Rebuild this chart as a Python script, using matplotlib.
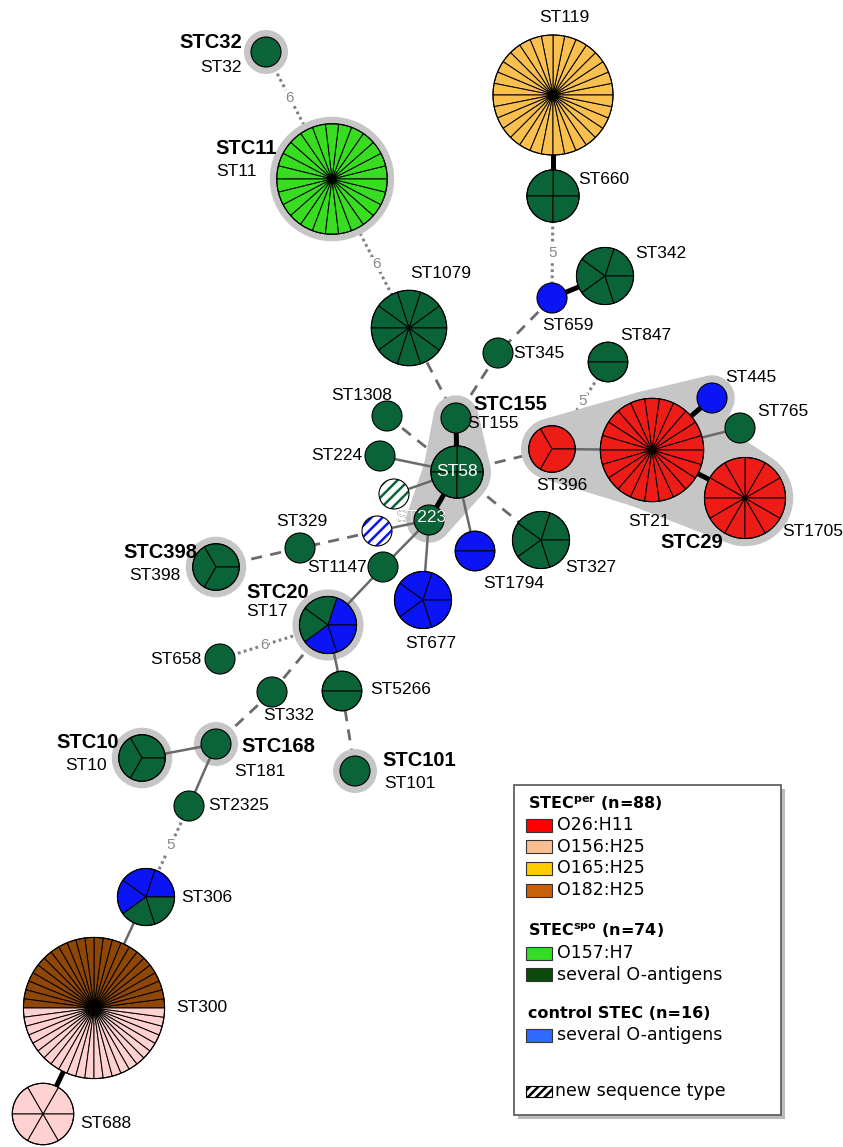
import numpy as np
import matplotlib
matplotlib.use("Agg")
import matplotlib.pyplot as plt
from matplotlib.patches import Circle, Wedge, Polygon, Rectangle

plt.rcParams['font.family'] = ['Liberation Sans', 'DejaVu Sans']
plt.rcParams['hatch.linewidth'] = 1.8

# --- data: isolates per sequence type, wedges in order (ccw from 3 o'clock) ---
st_types = {
    'ST32': [('spo', 1)], 'ST11': [('O157', 26)], 'ST119': [('O165', 32)],
    'ST660': [('spo', 4)], 'ST342': [('spo', 5)], 'ST659': [('ctrl', 1)],
    'ST1079': [('spo', 10)], 'ST345': [('spo', 1)], 'ST847': [('spo', 2)],
    'ST1308': [('spo', 1)], 'ST155': [('spo', 1)], 'ST224': [('spo', 1)],
    'ST58': [('spo', 4)], 'newA': [('spo', 1)], 'ST223': [('spo', 1)],
    'newB': [('ctrl', 1)], 'ST1794': [('ctrl', 2)], 'ST327': [('spo', 5)],
    'ST396': [('O26', 3)], 'ST21': [('O26', 22)], 'ST445': [('ctrl', 1)],
    'ST765': [('spo', 1)], 'ST1705': [('O26', 12)], 'ST329': [('spo', 1)],
    'ST398': [('spo', 3)], 'ST1147': [('spo', 1)],
    'ST17': [('ctrl', 1), ('spo', 2), ('ctrl', 2)],
    'ST677': [('ctrl', 5)], 'ST658': [('spo', 1)], 'ST5266': [('spo', 2)],
    'ST332': [('spo', 1)], 'ST181': [('spo', 1)], 'ST101': [('spo', 1)],
    'ST10': [('spo', 3)], 'ST2325': [('spo', 1)],
    'ST306': [('ctrl', 3), ('spo', 2)],
    'ST300': [('O182', 24), ('O156', 24)], 'ST688': [('O156', 6)],
}
new_sts = ['newA', 'newB']

# links: (a, b, kind, allelic distance label)
links = [
    ('ST32', 'ST11', 'dotted', '6'), ('ST11', 'ST1079', 'dotted', '6'),
    ('ST1079', 'ST155', 'dashed', ''), ('ST119', 'ST660', 'strong', ''),
    ('ST660', 'ST659', 'dotted', '5'), ('ST659', 'ST342', 'strong', ''),
    ('ST659', 'ST345', 'dashed', ''), ('ST345', 'ST155', 'dashed', ''),
    ('ST847', 'ST396', 'dotted', '5'), ('ST155', 'ST58', 'strong', ''),
    ('ST1308', 'ST58', 'dashed', ''), ('ST224', 'ST58', 'solid', ''),
    ('newA', 'ST58', 'solid', ''), ('ST58', 'ST223', 'strong', ''),
    ('ST58', 'ST1794', 'solid', ''), ('ST58', 'ST327', 'dashed', ''),
    ('ST58', 'ST396', 'dashed', ''), ('ST396', 'ST21', 'solid', ''),
    ('ST21', 'ST445', 'strong', ''), ('ST21', 'ST765', 'solid', ''),
    ('ST21', 'ST1705', 'strong', ''), ('ST223', 'newB', 'solid', ''),
    ('newB', 'ST329', 'dashed', ''), ('ST329', 'ST398', 'dashed', ''),
    ('ST223', 'ST1147', 'solid', ''), ('ST1147', 'ST17', 'solid', ''),
    ('ST223', 'ST677', 'solid', ''), ('ST17', 'ST658', 'dotted', '6'),
    ('ST17', 'ST5266', 'solid', ''), ('ST5266', 'ST101', 'dashed', ''),
    ('ST17', 'ST332', 'dashed', ''), ('ST332', 'ST181', 'dashed', ''),
    ('ST181', 'ST10', 'solid', ''), ('ST181', 'ST2325', 'solid', ''),
    ('ST2325', 'ST306', 'dotted', '5'), ('ST306', 'ST300', 'solid', ''),
    ('ST300', 'ST688', 'strong', ''),
]

# clonal complexes
stc_single = ['ST32', 'ST11', 'ST398', 'ST17', 'ST10', 'ST181', 'ST101']
stc_groups = [['ST155', 'ST58'], ['ST58', 'ST223'],
              ['ST396', 'ST21', 'ST445'], ['ST21', 'ST1705']]

legend_groups = [
    ('STEC$^{\\mathbf{per}}$ (n=88)', [('O26:H11', '#FF0000'), ('O156:H25', '#F9BF92'),
                                      ('O165:H25', '#FFCC00'), ('O182:H25', '#C8600A')]),
    ('STEC$^{\\mathbf{spo}}$ (n=74)', [('O157:H7', '#33DD22'), ('several O-antigens', '#0A4A0A')]),
    ('control STEC (n=16)', [('several O-antigens', '#2F6BFF')]),
]

# --- layout (pixel positions) ---
layout = {
    'ST32': (266, 52), 'ST11': (332, 179), 'ST119': (553, 95), 'ST660': (553, 196),
    'ST342': (605, 276), 'ST659': (552, 298), 'ST1079': (409, 328), 'ST345': (498, 353),
    'ST847': (608, 362), 'ST1308': (387, 416), 'ST155': (456, 418), 'ST224': (380, 456),
    'ST58': (457, 472), 'newA': (394, 494), 'ST223': (429, 520), 'newB': (377, 531),
    'ST1794': (475, 551), 'ST327': (541, 540), 'ST396': (552, 449), 'ST21': (652, 450),
    'ST445': (712, 398), 'ST765': (740, 428), 'ST1705': (745, 498), 'ST329': (300, 548),
    'ST398': (216, 567), 'ST1147': (383, 567), 'ST17': (328, 625), 'ST677': (423, 600),
    'ST658': (220, 659), 'ST5266': (342, 691), 'ST332': (272, 692), 'ST181': (216, 744),
    'ST101': (355, 771), 'ST10': (142, 758), 'ST2325': (189, 806), 'ST306': (146, 897),
    'ST300': (94, 1008), 'ST688': (43, 1114),
}
label_pos = {
    'ST32': (242, 68, 'right'), 'ST11': (257, 172, 'right'), 'ST119': (564, 17, 'center'),
    'ST660': (578, 179, 'left'), 'ST342': (635, 254, 'left'), 'ST659': (542, 325, 'left'),
    'ST1079': (410, 274, 'left'), 'ST345': (513, 354, 'left'), 'ST847': (620, 335, 'left'),
    'ST1308': (331, 395, 'left'), 'ST155': (467, 424, 'left'), 'ST224': (362, 455, 'right'),
    'ST396': (536, 485, 'left'), 'ST445': (725, 377, 'left'), 'ST765': (757, 411, 'left'),
    'ST21': (628, 522, 'left'), 'ST1705': (782, 531, 'left'), 'ST329': (276, 522, 'left'),
    'ST398': (180, 575, 'right'), 'ST1147': (367, 568, 'right'), 'ST17': (288, 612, 'right'),
    'ST1794': (483, 584, 'left'), 'ST327': (565, 567, 'left'), 'ST677': (405, 644, 'left'),
    'ST658': (201, 659, 'right'), 'ST5266': (370, 690, 'left'), 'ST332': (263, 715, 'left'),
    'ST10': (107, 765, 'right'), 'ST181': (234, 771, 'left'), 'ST101': (384, 783, 'left'),
    'ST2325': (208, 805, 'left'), 'ST306': (181, 898, 'left'), 'ST300': (176, 1008, 'left'),
    'ST688': (80, 1123, 'left'),
}
stc_labels = [('STC32', 242, 43, 'right'), ('STC11', 277, 148, 'right'),
              ('STC155', 473, 405, 'left'), ('STC29', 660, 543, 'left'),
              ('STC398', 197, 552, 'right'), ('STC20', 309, 593, 'right'),
              ('STC10', 119, 743, 'right'), ('STC168', 241, 747, 'left'),
              ('STC101', 382, 761, 'left')]

node_colors = {'O26': '#EE1C17', 'O156': '#FFD1D1', 'O165': '#F9C04F', 'O182': '#8F4707',
               'O157': '#38DD22', 'spo': '#0B6438', 'ctrl': '#0A14F5'}
link_styles = {
    'strong': dict(color='black', lw=3.6, zorder=3, solid_capstyle='butt'),
    'solid': dict(color='#6A6A6A', lw=1.8, zorder=3),
    'dashed': dict(color='#6A6A6A', lw=2.0, ls=(0, (4, 3)), zorder=1),
    'dotted': dict(color='#808080', lw=2.2, ls=(0, (0.9, 1.1)), zorder=1),
}
PAD = 7
HALO = '#C6C6C6'


def radius(name):
    n = sum(c for _, c in st_types[name])
    return 15 * n ** 0.4


def convex_hull(points):
    pts = sorted(set(points))

    def cross(o, a, b):
        return (a[0] - o[0]) * (b[1] - o[1]) - (a[1] - o[1]) * (b[0] - o[0])
    lower, upper = [], []
    for p in pts:
        while len(lower) >= 2 and cross(lower[-2], lower[-1], p) <= 0:
            lower.pop()
        lower.append(p)
    for p in reversed(pts):
        while len(upper) >= 2 and cross(upper[-2], upper[-1], p) <= 0:
            upper.pop()
        upper.append(p)
    return lower[:-1] + upper[:-1]


fig = plt.figure(figsize=(8.43, 11.47), dpi=100)
ax = fig.add_axes([0, 0, 1, 1])
ax.set_xlim(0, 843)
ax.set_ylim(1147, 0)
ax.axis('off')

in_hull = set(n for g in stc_groups for n in g)

# links
for a, b, kind, lab in links:
    (x1, y1), (x2, y2) = layout[a], layout[b]
    ax.plot([x1, x2], [y1, y2], **link_styles[kind])
    if lab:
        d = np.hypot(x2 - x1, y2 - y1)
        ra = radius(a) + (PAD if (a in stc_single or a in in_hull) else 0)
        rb = radius(b) + (PAD if (b in stc_single or b in in_hull) else 0)
        t = (ra + (d - ra - rb) / 2) / d
        ax.text(x1 + t * (x2 - x1), y1 + t * (y2 - y1), lab, fontsize=11, color='#888888',
                ha='center', va='center', zorder=2,
                bbox=dict(facecolor='white', edgecolor='none', pad=0.6))

# clonal complex shading
theta = np.linspace(0, 2 * np.pi, 90, endpoint=False)
for grp in stc_groups:
    pts = []
    for n in grp:
        cx, cy = layout[n]
        r = radius(n) + PAD
        pts += list(zip(cx + r * np.cos(theta), cy + r * np.sin(theta)))
    ax.add_patch(Polygon(convex_hull(pts), closed=True, facecolor=HALO,
                         edgecolor=HALO, lw=1, zorder=2))
for n in stc_single:
    ax.add_patch(Circle(layout[n], radius(n) + PAD, facecolor=HALO, edgecolor='none', zorder=2))

# nodes
circles = {}
for name, parts in st_types.items():
    xy = layout[name]
    r = radius(name)
    seq = [k for k, c in parts for _ in range(c)]
    if name in new_sts:
        col = node_colors[seq[0]]
        ax.add_patch(Circle(xy, r, facecolor='white', edgecolor=col, hatch='///', lw=0, zorder=4))
        circles[name] = ax.add_patch(Circle(xy, r, facecolor='none', edgecolor='black', lw=0.8, zorder=5))
        continue
    if len(seq) == 1:
        circles[name] = ax.add_patch(Circle(xy, r, facecolor=node_colors[seq[0]],
                                            edgecolor='black', lw=0.8, zorder=4))
        continue
    step = 360.0 / len(seq)
    for i, k in enumerate(seq):
        a1, a2 = i * step, (i + 1) * step
        ax.add_patch(Wedge(xy, r, -a2, -a1, facecolor=node_colors[k],
                           edgecolor='black', lw=0.7, zorder=4))
    circles[name] = ax.add_patch(Circle(xy, r, facecolor='none', edgecolor='black', lw=0.8, zorder=5))

# labels
for name, (x, y, ha) in label_pos.items():
    ax.text(x, y, name, fontsize=12.5, ha=ha, va='center', zorder=6)
for txt, x, y, ha in stc_labels:
    ax.text(x, y, txt, fontsize=14.5, fontweight='bold', ha=ha, va='center', zorder=6)
ax.text(457, 472, 'ST58', fontsize=12.5, color='white', ha='center', va='center', zorder=6)
ax.text(395, 518, 'ST223', fontsize=12.5, ha='left', va='center', zorder=6)
w = ax.text(395, 518, 'ST223', fontsize=12.5, color='white', ha='left', va='center', zorder=7)
w.set_clip_path(circles['ST223'])

# legend box
ax.add_patch(Rectangle((518, 789), 267, 330, facecolor='#BBBBBB', edgecolor='none', zorder=7))
ax.add_patch(Rectangle((514, 785), 267, 330, facecolor='white', edgecolor='#555555', lw=1.2, zorder=8))
lfont = dict(family='DejaVu Sans', va='center', zorder=9)
head_y = [803, 931, 1013]
row_step = 21.7
for (head, rows), hy in zip(legend_groups, head_y):
    ax.text(528, hy, head, fontsize=11.5, fontweight='bold', **lfont)
    for j, (lab, col) in enumerate(rows):
        ry = hy + 22 + j * row_step
        ax.add_patch(Rectangle((526, ry - 6.5), 26, 13, facecolor=col, edgecolor='#333333',
                               lw=0.8, zorder=9))
        ax.text(557, ry, lab, fontsize=12.5, **lfont)
ax.add_patch(Rectangle((526, 1086), 26, 11, facecolor='white', edgecolor='black',
                       hatch='////', lw=0.8, zorder=9))
ax.text(555, 1091, 'new sequence type', fontsize=12.5, **lfont)

fig.savefig('out.png', dpi=100)
